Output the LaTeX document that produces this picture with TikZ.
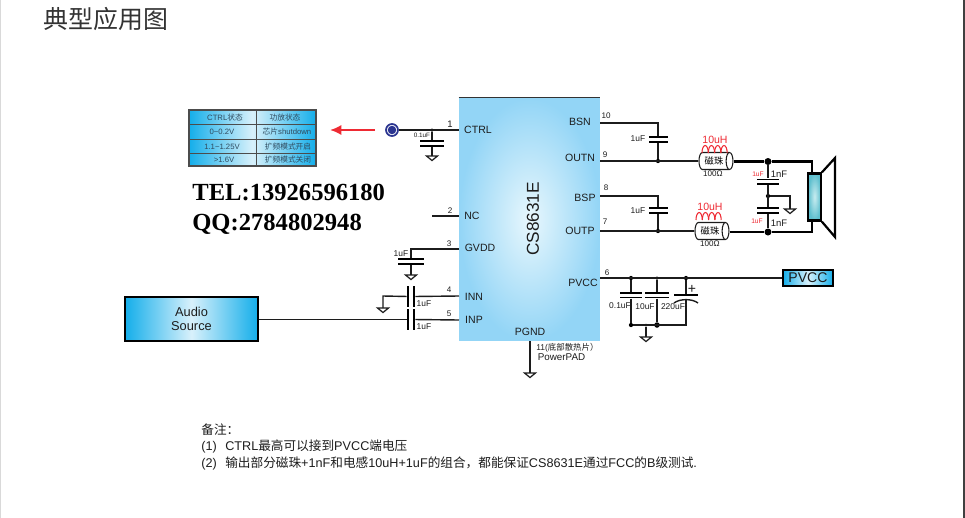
\documentclass[tikz,border=0pt]{standalone}
\usepackage{fontspec}
\setmainfont{Liberation Sans}
\newfontfamily\cjkfont{Noto Sans CJK SC}
\newfontfamily\telfont{Liberation Serif}
\usepackage{xcolor}
\usetikzlibrary{shapes.geometric}
\usetikzlibrary{positioning}
\usetikzlibrary{arrows.meta}
\definecolor{inkgrey}{HTML}{1C1C1C}
\definecolor{edgeblue}{HTML}{14AEEA}
\definecolor{paleblue}{HTML}{D8F1FB}
\definecolor{chipblue}{HTML}{93D5F6}
\definecolor{chipwhite}{HTML}{E8F7FD}
\definecolor{ringblue}{HTML}{2B3590}
\definecolor{redtxt}{HTML}{EE2A33}
\definecolor{tealdark}{HTML}{5FBFCE}
\definecolor{teallight}{HTML}{C8ECF0}
\definecolor{tblink}{HTML}{2F4A5E}
\tikzset{
  wire/.style={line width=.8pt,color=inkgrey},
  bold/.style={line width=1.25pt,color=black},
  plate/.style={fill=black,inner sep=0pt,minimum height=.035cm,minimum width=#1},
  plate/.default=.42cm,
  vplate/.style={fill=black,inner sep=0pt,minimum width=.04cm,minimum height=.42cm},
  junc/.style={circle,fill=black,inner sep=0pt,minimum size=#1},
  junc/.default=.085cm,
  pinname/.style={inner sep=0pt,text=inkgrey,font=\fontsize{6}{7}\selectfont},
  pinnum/.style={inner sep=0pt,text=inkgrey,font=\fontsize{4.6}{5}\selectfont},
  val/.style={inner sep=0pt,text=inkgrey,font=\fontsize{4.8}{5}\selectfont},
  redval/.style={inner sep=0pt,text=redtxt,font=\fontsize{#1}{5}\selectfont},
  redval/.default=6,
  tbltxt/.style={inner sep=0pt,text=tblink,font=\fontsize{4.4}{5}\selectfont},
  note/.style={inner sep=0pt,anchor=west,text=inkgrey,font=\fontsize{7.2}{8}\selectfont},
  tel/.style={inner sep=0pt,anchor=west,font=\fontsize{14}{16}\selectfont\telfont\bfseries},
  bluebox/.style={draw=black,line width=1pt,inner sep=0pt,left color=edgeblue,right color=edgeblue,middle color=paleblue},
  bead/.style={cylinder,draw=inkgrey,line width=.6pt,fill=white,shape aspect=.8,inner sep=0pt,
    minimum height=.68cm,minimum width=.34cm,font=\fontsize{5.3}{6}\selectfont\cjkfont},
  gnd/.pic={\draw[wire,line width=.7pt] (-5.5,0)--(5.5,0)--(0,4.5)--cycle;},
  coil/.pic={\foreach \i in {0,...,3}
    \draw[redtxt,line width=.6pt] (\i*6.3,8) arc[start angle=180,end angle=0,x radius=.063cm,y radius=.15cm];},
}
\begin{document}
\begin{tikzpicture}[x=.02cm,y=-.02cm]
\useasboundingbox (0,0) rectangle (965,518);
% page edges
\fill[black!15] (0,0) rectangle (1.5,518);
\fill[black!75] (963,0) rectangle (965,518);
\node[anchor=west,inner sep=0pt,text=black!80,font=\fontsize{14.2}{16}\selectfont\cjkfont] (title) at (43,19.5) {典型应用图};

% status table
\node[draw=black!70,line width=.6pt,inner sep=0pt,minimum width=2.54cm,minimum height=1.12cm,
  left color=edgeblue,right color=edgeblue,middle color=paleblue] (tbl) at (252.5,138) {};
\foreach \y in {124,139.5,153} \draw[black!70,line width=.5pt] (tbl.west |- 0,\y) -- (tbl.east |- 0,\y);
\draw[black!70,line width=.5pt] (256,110) -- (256,166);
\node[tbltxt] (t11) at (225,118) {CTRL{\cjkfont 状态}};
\node[tbltxt] (t12) at (285,118) {{\cjkfont 功放状态}};
\node[tbltxt] (t21) at (222,132) {0\textasciitilde0.2V};
\node[tbltxt] (t22) at (287,132) {{\cjkfont 芯片}shutdown};
\node[tbltxt] (t31) at (222,146.5) {1.1\textasciitilde1.25V};
\node[tbltxt] (t32) at (288,146.5) {{\cjkfont 扩频模式开启}};
\node[tbltxt] (t41) at (224,160) {>1.6V};
\node[tbltxt] (t42) at (288,160) {{\cjkfont 扩频模式关闭}};
\coordinate (arrstart) at (375,130);
\coordinate (arrend) at (330,130);
\draw[-{Latex[length=.23cm,width=.21cm]},redtxt,line width=1.4pt] (arrstart) -- (arrend);
\node[tel] (telno) at (192,192) {TEL:13926596180};
\node[tel] (qqno) at (192,224.5) {QQ:2784802948};

% chip
\node[inner sep=0pt,minimum width=2.82cm,minimum height=4.86cm,inner color=chipwhite,outer color=chipblue] (chip) at (529.5,219.5) {};
\draw[black!80,line width=.8pt] (chip.north west) -- (chip.north east);
\node[rotate=90,inner sep=0pt,text=inkgrey,font=\fontsize{9.8}{11}\selectfont] (name) at (533,219) {CS8631E};
\node[pinname] (nctrl) at (478,130) {CTRL};
\node[pinname] (nnc) at (472,216) {NC};
\node[pinname] (ngvdd) at (480,248) {GVDD};
\node[pinname] (ninn) at (474,297) {INN};
\node[pinname] (ninp) at (474,320) {INP};
\node[pinname] (npgnd) at (530,332) {PGND};
\node[pinname] (nbsn) at (580,122) {BSN};
\node[pinname] (noutn) at (580,158) {OUTN};
\node[pinname] (nbsp) at (585,198) {BSP};
\node[pinname] (noutp) at (580,231) {OUTP};
\node[pinname] (npvcc) at (583,283) {PVCC};
\node[pinnum,font=\fontsize{5.4}{6}\selectfont] (n1) at (450,124) {1};
\node[pinnum] (n2) at (450,211) {2};
\node[pinnum] (n3) at (449,244) {3};
\node[pinnum] (n4) at (449,289.5) {4};
\node[pinnum] (n5) at (449,314) {5};
\node[pinnum] (n6) at (607,273) {6};
\node[pinnum] (n7) at (605,222) {7};
\node[pinnum] (n8) at (606,188) {8};
\node[pinnum] (n9) at (605,155) {9};
\node[pinnum] (n10) at (606,116) {10};

% ctrl pin
\node[circle,draw=ringblue,line width=1pt,fill=white,inner sep=0pt,minimum size=.24cm] (ctrlpad) at (392,130) {};
\node[circle,fill=ringblue,inner sep=0pt,minimum size=.17cm] (ctrlcore) at (392,130) {};
\coordinate (pctrl) at (459,130);
\node[junc=.07cm] (jctrl) at (432,130) {};
\node[plate=.5cm] (c1a) at (432,141) {};
\node[plate=.5cm] (c1b) at (432,146) {};
\coordinate (g1) at (432,156);
\draw[wire] (ctrlpad) -- (pctrl);
\draw[wire] (jctrl) -- (c1a);
\draw[wire] (c1b) -- (g1);
\pic at (g1) {gnd};
\node[val,font=\fontsize{3.6}{4}\selectfont] (v1) at (422,135) {0.1uF};

% nc, gvdd
\coordinate (pnc) at (459,216);
\coordinate (endnc) at (432,216);
\draw[wire] (endnc) -- (pnc);
\coordinate (pgvdd) at (459,249);
\coordinate (bendg) at (411,249);
\node[plate=.52cm] (c3a) at (411,259) {};
\node[plate=.52cm] (c3b) at (411,264) {};
\coordinate (g3) at (411,275);
\draw[wire] (pgvdd) -- (bendg) -- (c3a);
\draw[wire] (c3b) -- (g3);
\pic at (g3) {gnd};
\node[val] (v3) at (401,254) {1uF};

% audio input
\node[bluebox,minimum width=2.66cm,minimum height=.88cm,align=center,text=inkgrey,font=\fontsize{7.3}{7.6}\selectfont] (audio) at (191.5,319) {Audio\\Source};
\coordinate (pinn) at (459,296);
\coordinate (pinp) at (459,320);
\coordinate (bendi) at (383,296);
\coordinate (g4) at (383,308);
\node[vplate] (c4a) at (408,296.5) {};
\node[vplate] (c4b) at (414,296.5) {};
\node[vplate] (c5a) at (408,319.5) {};
\node[vplate] (c5b) at (414,319.5) {};
\draw[wire] (pinn) -- (c4b);
\draw[wire] (c4a) -- (bendi) -- (g4);
\pic at (g4) {gnd};
\draw[wire] (pinp) -- (c5b);
\draw[wire] (c5a) -- (audio.east |- c5a);
\node[val] (v4) at (424,304) {1uF};
\node[val] (v5) at (424,327) {1uF};

% pad
\coordinate (ppad) at (530,341);
\coordinate (g11) at (530,373);
\draw[wire] (ppad) -- (g11);
\pic at (g11) {gnd};
\node[val,anchor=west] (v11) at (536,348) {11({\cjkfont 底部散热片）}};
\node[val,anchor=west,font=\fontsize{5.6}{6}\selectfont] (padname) at (537.5,357.5) {PowerPAD};

% output n
\coordinate (p10) at (600,123);
\coordinate (bend10) at (658,123);
\coordinate (p9) at (600,161);
\node[plate=.38cm] (c10a) at (658,137) {};
\node[plate=.38cm] (c10b) at (658,142) {};
\node[junc] (j9) at (658,161) {};
\node[bead] (bead1) at (714,161) {磁珠};
\node[junc=.14cm] (j9b) at (768,161.5) {};
\coordinate (topsp) at (812,161.5);
\node[draw=black,line width=1.3pt,inner sep=0pt,minimum width=.25cm,minimum height=.94cm,
  inner color=teallight,outer color=tealdark] (spk) at (814.5,197) {};
\draw[wire] (p10) -- (bend10) -- (c10a);
\draw[wire] (c10b) -- (j9);
\draw[wire] (p9) -- (bead1);
\draw[bold] (bead1.east |- j9b) -- (j9b) -- (topsp) -- (spk.north -| topsp);
\node[val] (v10) at (638,139) {1uF};
\node[redval=6] (l1) at (715,140) {10uH};
\pic at (702,145) {coil};
\node[val,font=\fontsize{4.6}{5}\selectfont] (r1) at (713,174) {100Ω};

% output p
\coordinate (p8) at (600,196);
\coordinate (bend8) at (658,196);
\coordinate (p7) at (600,231);
\node[plate=.38cm] (c8a) at (658,208) {};
\node[plate=.38cm] (c8b) at (658,213) {};
\node[junc] (j7) at (658,231) {};
\node[bead] (bead2) at (710,231) {磁珠};
\node[junc=.14cm] (j7b) at (768,232) {};
\coordinate (botsp) at (812,232);
\draw[wire] (p8) -- (bend8) -- (c8a);
\draw[wire] (c8b) -- (j7);
\draw[wire] (p7) -- (bead2);
\draw[bold] (bead2.east |- j7b) -- (j7b) -- (botsp) -- (spk.south -| botsp);
\node[val] (v8) at (638,211) {1uF};
\node[redval=6] (l2) at (710,207) {10uH};
\pic at (696,212) {coil};
\node[val,font=\fontsize{4.6}{5}\selectfont] (r2) at (710,244) {100Ω};

% speaker filter
\node[plate=.44cm] (cfa) at (768,179.5) {};
\node[plate=.44cm] (cfb) at (768,184) {};
\node[plate=.44cm] (cfc) at (768,208) {};
\node[plate=.44cm] (cfd) at (768,213) {};
\node[junc] (jf) at (768,196) {};
\coordinate (bendf) at (790,196);
\coordinate (gf) at (790,209);
\draw[wire] (j9b) -- (cfa);
\draw[wire] (cfb) -- (cfc);
\draw[wire] (cfd) -- (j7b);
\draw[wire] (jf) -- (bendf) -- (gf);
\pic at (gf) {gnd};
\node[val,font=\fontsize{5.4}{6}\selectfont] (f1) at (779,174) {1nF};
\node[val,font=\fontsize{5.4}{6}\selectfont] (f2) at (779,223) {1nF};
\node[redval=3.8] (f3) at (758,174) {1uF};
\node[redval=3.8] (f4) at (757,221) {1uF};

% speaker cone
\coordinate (cone1) at (835,158);
\coordinate (cone2) at (835,237);
\draw[bold] (spk.north east) -- (cone1) -- (cone2) -- (spk.south east);

% pvcc
\node[bluebox,minimum width=1cm,minimum height=.32cm,text=inkgrey,font=\fontsize{8}{9}\selectfont,line width=1.1pt] (pvcc) at (808,278) {PVCC};
\coordinate (p6) at (600,278);
\node[junc] (j6a) at (631,278) {};
\node[junc=.07cm] (j6b) at (657,278) {};
\node[junc] (j6c) at (686,278) {};
\draw[wire] (p6) -- (pvcc);
\node[plate=.44cm] (c6a) at (631,293) {};
\node[plate=.44cm] (c6b) at (631,297.5) {};
\node[plate=.48cm] (c7a) at (657,293) {};
\node[plate=.48cm] (c7b) at (657,297.5) {};
\node[plate=.48cm] (c8p) at (686,295) {};
\coordinate (arcl) at (674,303);
\coordinate (arcr) at (698,303);
\coordinate (arcm) at (686,299.5);
\draw[wire] (arcl) .. controls (680,298.5) and (692,298.5) .. (arcr);
\node[junc] (b6a) at (631,325) {};
\node[junc=.11cm] (b6b) at (657,325) {};
\coordinate (b6c) at (686,325);
\node[junc=.06cm] (b6g) at (646,325) {};
\coordinate (g6) at (646,337);
\draw[wire] (j6a) -- (c6a);
\draw[wire] (c6b) -- (b6a);
\draw[wire] (j6b) -- (c7a);
\draw[wire] (c7b) -- (b6b);
\draw[wire] (j6c) -- (c8p);
\draw[wire] (arcm) -- (b6c) -- (b6a);
\draw[wire] (b6g) -- (g6);
\pic at (g6) {gnd};
\node[val,font=\fontsize{8}{9}\selectfont] (plus) at (692,289.5) {+};
\node[val] (v6a) at (620,306) {0.1uF};
\node[val] (v6b) at (645,306.5) {10uF};
\node[val] (v6c) at (673,306.5) {220uF};

% notes
\node[note] (note0) at (201,429.5) {{\cjkfont 备注：}};
\node[note] (note1) at (201,446) {(1)\hspace{.17cm}CTRL{\cjkfont 最高可以接到}PVCC{\cjkfont 端电压}};
\node[note] (note2) at (201,463) {(2)\hspace{.17cm}{\cjkfont 输出部分磁珠}+1nF{\cjkfont 和电感}10uH+1uF{\cjkfont 的组合，都能保证}CS8631E{\cjkfont 通过}FCC{\cjkfont 的}B{\cjkfont 级测试}.};
\end{tikzpicture}
\end{document}
